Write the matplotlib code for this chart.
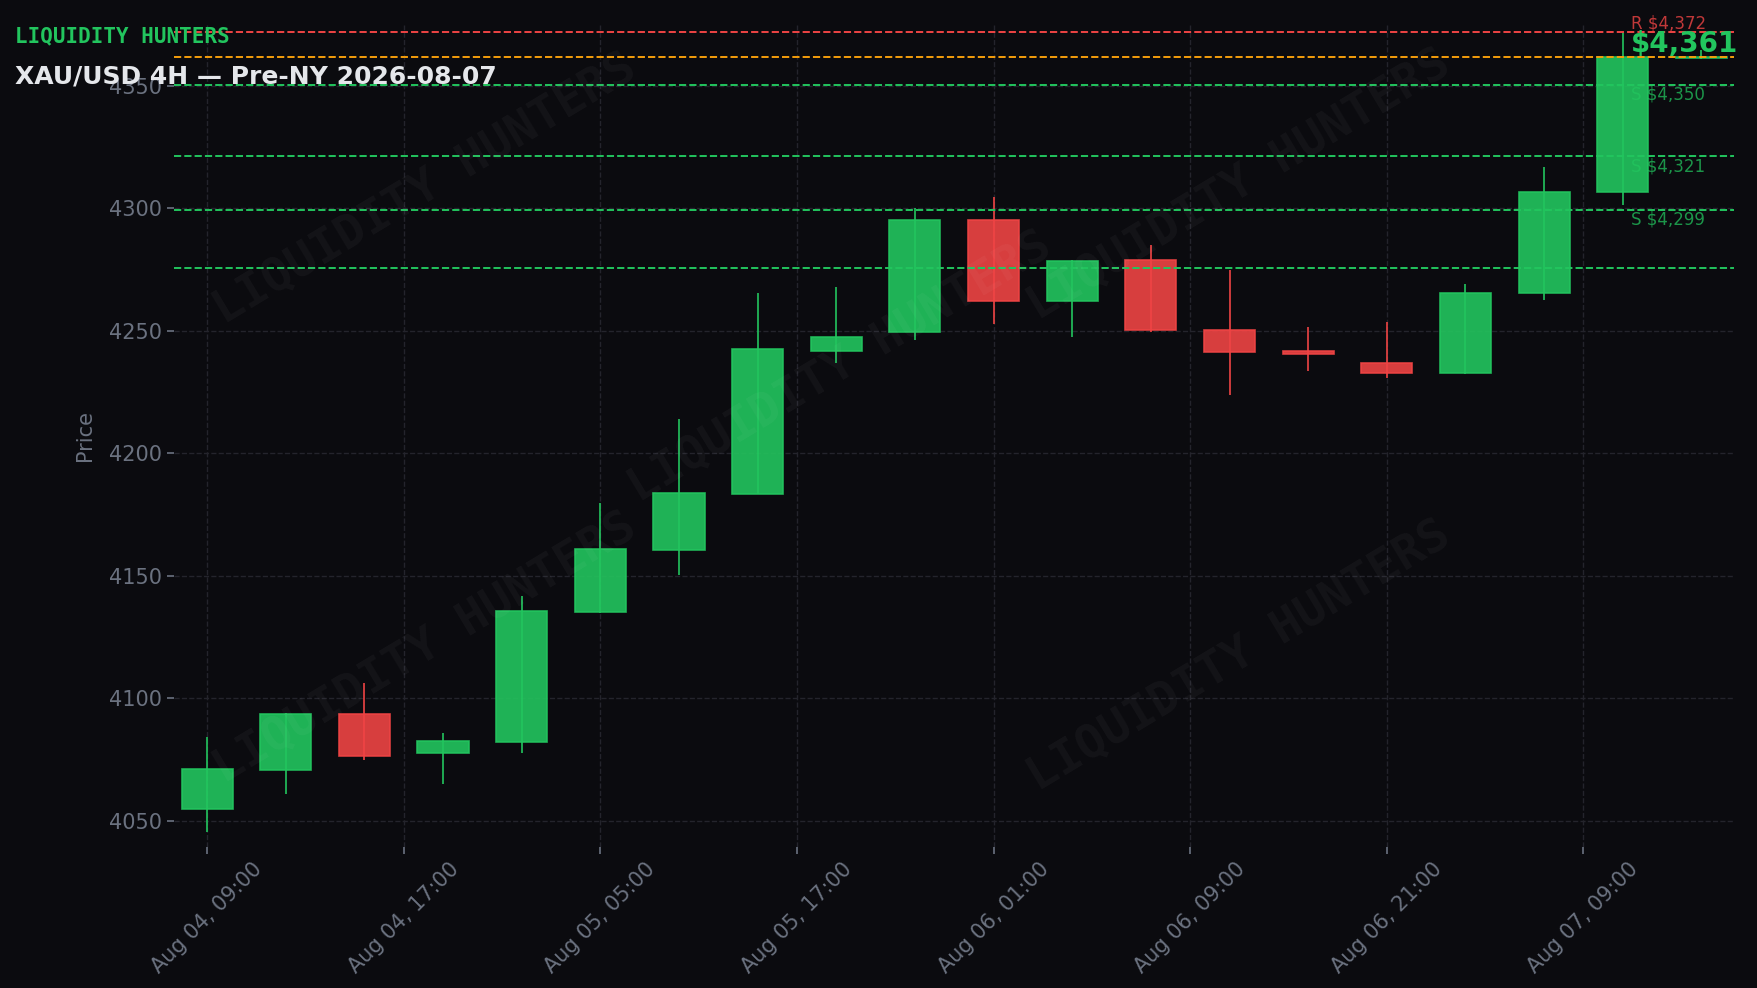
import matplotlib
matplotlib.use('Agg')
import matplotlib.pyplot as plt

# 4H candles, XAU/USD
opens = [4054.8, 4070.8, 4093.7, 4077.9, 4082.2, 4135.3, 4160.6, 4183.5, 4242.0, 4249.5,
         4295.3, 4262.2, 4278.9, 4250.3, 4241.7, 4236.8, 4233.0, 4265.6, 4306.7, 4361.4]
highs = [4084.4, 4093.9, 4106.4, 4086.0, 4141.7, 4179.8, 4214.0, 4265.4, 4268.1, 4300.3,
         4304.5, 4279.0, 4285.0, 4274.7, 4251.5, 4253.7, 4269.3, 4317.0, 4371.6, 4364.8]
lows = [4045.5, 4061.2, 4074.7, 4065.3, 4077.8, 4134.8, 4150.5, 4183.3, 4237.1, 4246.3,
        4253.0, 4247.5, 4249.4, 4223.7, 4233.5, 4230.7, 4232.6, 4262.8, 4301.6, 4361.0]
closes = [4071.2, 4093.7, 4076.7, 4082.7, 4135.8, 4161.0, 4184.0, 4242.6, 4247.4, 4295.3,
          4262.2, 4278.7, 4250.3, 4241.5, 4240.5, 4232.8, 4265.6, 4306.9, 4361.9, 4361.9]

tick_pos = [0, 2.5, 5, 7.5, 10, 12.5, 15, 17.5]
tick_labels = ['Aug 04, 09:00', 'Aug 04, 17:00', 'Aug 05, 05:00', 'Aug 05, 17:00',
               'Aug 06, 01:00', 'Aug 06, 09:00', 'Aug 06, 21:00', 'Aug 07, 09:00']

resistance = 4372
last_price = 4361
supports = [4350, 4321, 4299]
extra_support = 4275  # drawn, no label

BG = '#0b0b0f'
GREEN = '#22c55e'
RED = '#ef4444'
ORANGE = '#f59e0b'
MUTED = '#6b7280'
GRID = '#24242c'

fig = plt.figure(figsize=(17.58, 9.88), dpi=100, facecolor=BG)
ax = fig.add_axes([0.099, 0.143, 0.8876, 0.832])
ax.set_facecolor(BG)

# watermark
for fx, fy in [(0.242, 0.809), (0.242, 0.344), (0.478, 0.628), (0.705, 0.813), (0.705, 0.336)]:
    fig.text(fx, fy, 'LIQUIDITY HUNTERS', family='DejaVu Sans Mono', fontweight='bold',
             fontsize=34, color='white', alpha=0.04, rotation=31,
             ha='center', va='center', zorder=0)

xs = list(range(len(opens)))
for i in xs:
    up = closes[i] >= opens[i]
    col = GREEN if up else RED
    ax.vlines(i, lows[i], highs[i], color=col, linewidth=1.2, zorder=3)
    body_lo = min(opens[i], closes[i])
    body_h = max(abs(closes[i] - opens[i]), 0.6)
    ax.bar(i, body_h, bottom=body_lo, width=0.65, color=col, alpha=0.9,
           edgecolor=col, linewidth=1.2, zorder=4)

# levels
ax.axhline(resistance, color=RED, linestyle='--', linewidth=1.4, zorder=5)
ax.axhline(last_price + 0.9, color=ORANGE, linestyle='--', linewidth=1.4, zorder=5)
for s in supports + [extra_support]:
    ax.axhline(s + 0.5, color=GREEN, linestyle='--', linewidth=1.4, zorder=5)

lx = len(opens) - 1.9
ax.text(lx, resistance, f'R ${resistance:,}', color=RED, alpha=0.8, fontsize=12,
        ha='left', va='bottom', zorder=6)
for s in supports:
    ax.text(lx, s, f'S ${s:,}', color=GREEN, alpha=0.75, fontsize=12,
            ha='left', va='top', zorder=6)
ax.annotate(f'${last_price:,}', (lx, last_price), xytext=(0, 1), textcoords='offset points',
            color=GREEN, fontsize=20, fontweight='bold', ha='left', va='bottom', zorder=7,
            annotation_clip=False)

ax.set_xlim(-0.42, 19.42)
ax.set_ylim(4039.5, 4375)
ax.set_yticks([4050, 4100, 4150, 4200, 4250, 4300, 4350])
ax.set_xticks(tick_pos)
ax.set_xticklabels(tick_labels, rotation=45)
ax.tick_params(colors=MUTED, labelsize=15, length=5, width=1.2)
ax.set_ylabel('Price', color=MUTED, fontsize=15, labelpad=10)
ax.grid(True, color=GRID, linestyle='--', linewidth=1.0, zorder=0)
ax.set_axisbelow(True)
for sp in ax.spines.values():
    sp.set_visible(False)

fig.text(0.0083, 0.9636, 'LIQUIDITY HUNTERS', family='DejaVu Sans Mono', fontweight='bold',
         fontsize=15, color=GREEN, ha='left', va='center')
fig.text(0.0083, 0.923, 'XAU/USD 4H — Pre-NY 2026-08-07', fontweight='bold',
         fontsize=18, color='#e5e7eb', ha='left', va='center')

fig.savefig('out.png', dpi=100, facecolor=BG)
